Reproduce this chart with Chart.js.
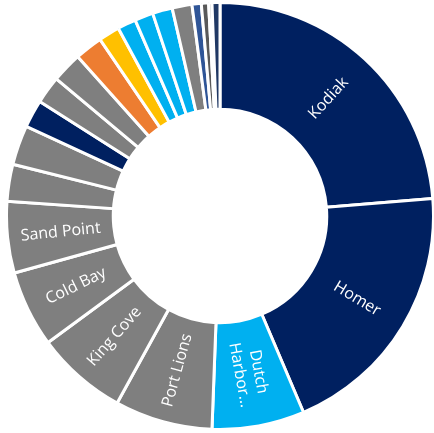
<!DOCTYPE html>
<html>
<head>
<meta charset="utf-8">
<script src="https://cdn.jsdelivr.net/npm/chart.js@4"></script>
<style>
  html, body { margin: 0; padding: 0; background: #fff; overflow: hidden; }
  #wrap { position: absolute; left: 5px; top: 0px; width: 430px; height: 432px; }
</style>
</head>
<body>
<div id="wrap"><canvas id="chart-port-share"></canvas></div>
<script>
// ports, clockwise from 12 o'clock
var ports = [
  "Kodiak", "Homer", "Dutch Harbor", "Port Lions", "King Cove", "Cold Bay", "Sand Point",
  "Chignik", "Akutan", "Seldovia", "Old Harbor", "Ouzinkie", "Larsen Bay", "Adak",
  "False Pass", "Perryville", "Nelson Lagoon", "Port Heiden", "Chenega", "Ivanof Bay",
  "Tatitlek", "Nanwalek"
];
// share of total (%)
var shares = [
  23.7, 19.9, 7.0, 7.4, 6.9, 5.8, 5.4,
  2.8, 3.0, 2.1, 2.1, 2.3, 2.1, 1.6,
  1.4, 1.4, 1.5, 1.5, 0.7, 0.55,
  0.25, 0.6
];
var sliceColors = [
  "#002060", "#002060", "#00B0F0", "#7F7F7F", "#7F7F7F", "#7F7F7F", "#7F7F7F",
  "#7F7F7F", "#7F7F7F", "#002060", "#7F7F7F", "#7F7F7F", "#ED7D31", "#FFC000",
  "#00B0F0", "#00B0F0", "#00B0F0", "#7F7F7F", "#2F5597", "#595959",
  "#7F7F7F", "#203864"
];
// text written inside the slice (null = slice too small for a label)
var sliceText = [
  ["Kodiak"], ["Homer"], ["Dutch", "Harbor\u2026"], ["Port Lions"], ["King Cove"], ["Cold Bay"], ["Sand Point"],
  null, null, null, null, null, null, null,
  null, null, null, null, null, null,
  null, null
];

// writes the label along the radius, flipped on the left half so it stays readable
var radialLabels = {
  id: "radialLabels",
  afterDatasetsDraw: function(chart) {
    var ctx = chart.ctx;
    var meta = chart.getDatasetMeta(0);
    ctx.save();
    ctx.fillStyle = "#FFFFFF";
    ctx.font = "16px 'Open Sans'";
    ctx.textAlign = "center";
    ctx.textBaseline = "middle";
    meta.data.forEach(function(arc, i) {
      var lines = sliceText[i];
      if (!lines) return;
      var p = arc.getProps(["x", "y", "startAngle", "endAngle", "innerRadius", "outerRadius"], true);
      var mid = (p.startAngle + p.endAngle) / 2;
      var r = (p.innerRadius + p.outerRadius) / 2;
      var x = p.x + Math.cos(mid) * r;
      var y = p.y + Math.sin(mid) * r;
      var rot = mid;
      // mid is measured from 3 o'clock; left half reads inward
      if (Math.cos(mid) < -0.0001 || (mid > Math.PI / 2 && mid < Math.PI * 1.5)) rot = mid + Math.PI;
      ctx.save();
      ctx.translate(x, y);
      ctx.rotate(rot);
      var lh = 19;
      var top = -(lines.length - 1) * lh / 2;
      lines.forEach(function(t, k) {
        ctx.fillText(t, 0, top + k * lh);
      });
      ctx.restore();
    });
    ctx.restore();
  }
};

var ctx = document.getElementById("chart-port-share").getContext("2d");
var PortChart = new Chart(ctx, {
  type: "doughnut",
  data: {
    labels: ports,
    datasets: [{
      data: shares,
      backgroundColor: sliceColors,
      borderColor: "#FFFFFF",
      borderWidth: 3
    }]
  },
  options: {
    responsive: true,
    maintainAspectRatio: false,
    animation: false,
    cutout: "50%",
    layout: { padding: 0 },
    plugins: {
      legend: { display: false },
      tooltip: { enabled: false }
    }
  },
  plugins: [radialLabels]
});
</script>
</body>
</html>
